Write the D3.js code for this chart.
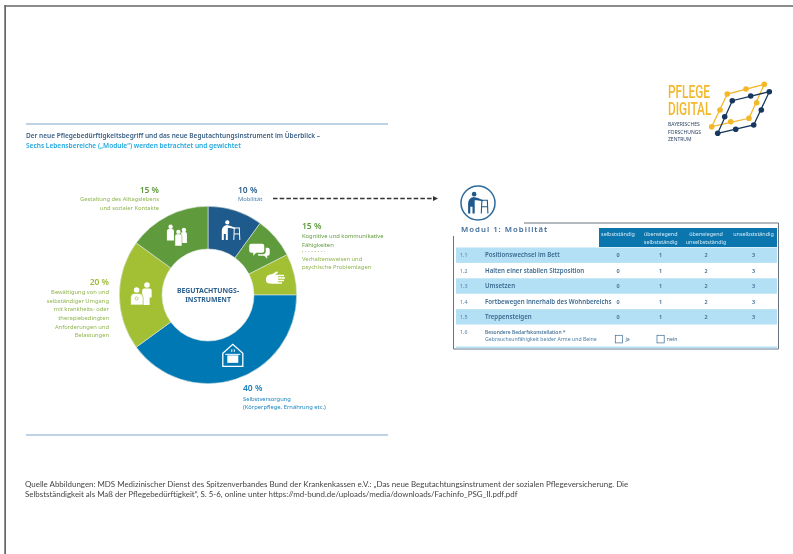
<!DOCTYPE html>
<html><head><meta charset="utf-8">
<script src="https://cdnjs.cloudflare.com/ajax/libs/d3/7.8.5/d3.min.js"></script>
<style>
html,body{margin:0;padding:0;background:#fff;overflow:hidden}
svg{display:block;font-family:"Noto Sans",sans-serif;filter:blur(.3px)}
</style></head><body><svg id="c" width="793" height="554"></svg>
<script>
const moduleNames = ["Mobilität","Kognitive / Kommunikation","Verhaltensweisen","Selbstversorgung","Umgang mit Anforderungen","Alltagsleben"];
const moduleShares = [10, 7.5, 7.5, 40, 20, 15];
const moduleColors = ["#1f5a8c","#5f9b3c","#a3c035","#0078b4","#a3c035","#5f9b3c"];
const columnHeaders = [["selbstständig"],["überwiegend","selbstständig"],["überwiegend","unselbstständig"],["unselbstständig"]];
const itemNumbers = ["1.1","1.2","1.3","1.4","1.5"];
const itemNames = ["Positionswechsel im Bett","Halten einer stabilen Sitzposition","Umsetzen","Fortbewegen innerhalb des Wohnbereichs","Treppensteigen"];
const itemScores = [0,1,2,3];

const svg = d3.select("#c");
const BLUE="#2c5f8d", CYAN="#1fa8e0", DGREEN="#5f9b3c", LINE="#a9c4de", LG="#8fb54d";
function txt(x,y,s,o={}){
  return svg.append("text").attr("x",x).attr("y",y).text(s)
    .attr("font-size",o.size||5.8).attr("fill",o.fill||BLUE)
    .attr("font-weight",o.weight||400).attr("text-anchor",o.anchor||"start")
    .attr("letter-spacing",o.ls||0).style("font-family",o.font||null);
}
// page frame
svg.append("rect").attr("x",4.5).attr("y",5).attr("width",789).attr("height",2).attr("fill","#8c8c8c");
svg.append("rect").attr("x",4.3).attr("y",5).attr("width",1.7).attr("height",549).attr("fill","#666");

// rules
[124,435].forEach(y=>svg.append("line").attr("x1",26).attr("x2",388).attr("y1",y).attr("y2",y).attr("stroke",LINE).attr("stroke-width",1.3));
txt(26,138,"Der neue Pflegebedürftigkeitsbegriff und das neue Begutachtungsinstrument im Überblick –",{weight:600,size:6.5,fill:"#3a5f85"});
txt(26,148,"Sechs Lebensbereiche („Module“) werden betrachtet und gewichtet",{weight:600,size:6.55,fill:CYAN});

// donut
const cx=208,cy=295,R0=46,R1=88.7;
const pie=d3.pie().sort(null).value(d=>d);
const arc=d3.arc().innerRadius(R0).outerRadius(R1);
const slices=pie(moduleShares);
const g=svg.append("g").attr("transform",`translate(${cx},${cy})`);
g.selectAll("path").data(slices).join("path").attr("d",arc)
  .attr("fill",(d,i)=>moduleColors[i]).attr("stroke","#dfe8e0").attr("stroke-width",0.6);
txt(cx,293,"BEGUTACHTUNGS-",{anchor:"middle",weight:700,size:6.9});
txt(cx,302,"INSTRUMENT",{anchor:"middle",weight:700,size:6.9});

// white icons placed relative to arc centroids
const cen=slices.map(d=>{const [a,b]=arc.centroid(d);return [cx+a,cy+b];});
function icon(i,dx,dy,draw){const gg=svg.append("g").attr("transform",`translate(${cen[i][0]+dx},${cen[i][1]+dy})`).attr("fill","#fff");draw(gg);return gg;}
function walker(gg,c,w){
  gg.append("circle").attr("cx",-3.5).attr("cy",-8.5).attr("r",2.1).attr("fill",c);
  gg.append("path").attr("d","M-9 9V0Q-9-5-4-6L0-5L4.5-3V-2L-1-3L-3-3V9H-5V3H-7V9Z").attr("fill",c);
  gg.append("path").attr("d","M2.5-3H9M3.5-3L3 9M8.5-3L9 9M3.3 3H8.7").attr("fill","none").attr("stroke",c).attr("stroke-width",w);
}
icon(0,2,0,gg=>walker(gg,"#fff",1));
icon(1,0,-0.5,gg=>{
  gg.append("path").attr("d","M-8-7H3Q5-7 5-5V0Q5 2 3 2H-3L-6 5V2H-8Q-10 2-10 0V-5Q-10-7-8-7Z");
  gg.append("path").attr("d","M6.5-3H8.5Q10.5-3 10.5-1V3Q10.5 5 8.5 5H8V8L5 5H0Q-1.5 5-1.5 3.5H3.5Q6.5 3.5 6.5 0.5Z");
});
icon(2,1.5,-1,gg=>{
  gg.append("path").attr("d","M-9 0Q-8-4-3-4L2-7L3-5.5L0-3.5H9V-2H3V-1H10V0.5H3V1.5H9V3H3V4H7V5.5H-3Q-8 5.5-9 3Z");
});
icon(3,4,-3.7,gg=>{
  gg.append("path").attr("d","M-10-2L0-11L10-2V11H-10Z").attr("fill","none").attr("stroke","#fff").attr("stroke-width",1.3);
  gg.append("path").attr("d","M-5.5 0H5.5V7.5H-5.5Z");
  gg.append("path").attr("d","M-7.5-1H7.5M-1-6V-3.5M1.5-6V-3.5").attr("fill","none").attr("stroke","#fff").attr("stroke-width",1);
});
icon(4,0.5,-1.5,gg=>{
  gg.append("circle").attr("cx",5.8).attr("cy",-8.5).attr("r",2.8);
  gg.append("path").attr("d","M1 11.5V-3Q1-5 3-5H8.5Q10.5-5 10.5-3V4H8.5V11.5Z");
  gg.append("circle").attr("cx",-4.5).attr("cy",-3.5).attr("r",2.8);
  gg.append("path").attr("d","M-10.5 11.5V4Q-10.5 0-7 0H-2Q2 0 2 4V11.5Z").attr("stroke","#a3c035").attr("stroke-width",0.7);
  gg.append("circle").attr("cx",-4.5).attr("cy",5).attr("r",1.5).attr("fill","none").attr("stroke","#a3c035").attr("stroke-width",0.7);
});
icon(5,-0.5,0,gg=>{
  gg.append("circle").attr("cx",-6.3).attr("cy",-8.3).attr("r",2.2);
  gg.append("path").attr("d","M-10 5.6V-4Q-10-6-8-6H-5Q-3-6-3-4V5.6Z");
  gg.append("circle").attr("cx",7).attr("cy",-5).attr("r",2.2);
  gg.append("path").attr("d","M4 8V-1Q4-3 6-3H8Q10-3 10-1V8Z");
  gg.append("circle").attr("cx",1.5).attr("cy",-3).attr("r",2.2);
  gg.append("path").attr("d","M-2 11V1Q-2-1 0-1H3Q5-1 5 1V11Z").attr("stroke","#5f9b3c").attr("stroke-width",0.5);
});

// labels
txt(159,193,"15 %",{anchor:"end",size:8.5,weight:600,fill:DGREEN});
txt(159,201,"Gestaltung des Alltagslebens",{anchor:"end",fill:LG});
txt(159,210,"und sozialer Kontakte",{anchor:"end",fill:LG});
txt(238,193,"10 %",{size:8.5,weight:600});
txt(238,201,"Mobilität",{fill:"#4a7fb0"});
txt(302,229,"15 %",{size:8.5,weight:600,fill:DGREEN});
txt(302,238,"Kognitive und kommunikative",{fill:DGREEN});
txt(302,246.5,"Fähigkeiten",{fill:DGREEN});
svg.append("line").attr("x1",302).attr("x2",325).attr("y1",251.5).attr("y2",251.5).attr("stroke",LG).attr("stroke-width",0.7).attr("stroke-dasharray","1 2.2");
txt(302,260.5,"Verhaltensweisen und",{fill:LG});
txt(302,269,"psychische Problemlagen",{fill:LG});
txt(109,285,"20 %",{anchor:"end",size:8.5,weight:600,fill:"#9dbb3a"});
["Bewältigung von und","selbständiger Umgang","mit krankheits- oder","therapiebedingten","Anforderungen und","Belastungen"].forEach((s,i)=>
  txt(109,294+i*8.65,s,{anchor:"end",fill:LG}));
txt(243,391,"40 %",{size:8.5,weight:600,fill:"#1a82bd"});
txt(243,400.5,"Selbstversorgung",{fill:"#1a82bd"});
txt(243,409,"(Körperpflege, Ernährung etc.)",{fill:"#1a82bd"});

// dashed arrow
svg.append("line").attr("x1",273).attr("x2",433).attr("y1",198.5).attr("y2",198.5).attr("stroke","#333").attr("stroke-width",1.3).attr("stroke-dasharray","4.5 2.2");
svg.append("path").attr("d","M433 196L438 198.5L433 201Z").attr("fill","#333");

// module icon
svg.append("circle").attr("cx",478).attr("cy",203).attr("r",17).attr("fill","#fff").attr("stroke","#2c6a9c").attr("stroke-width",1.5);
walker(svg.append("g").attr("transform","translate(478,203.5) scale(1.1)"),"#1f5a8c",1);

// table
svg.append("path").attr("d","M453.5 236V349H778.5V223H524").attr("fill","none").attr("stroke","#6b7380").attr("stroke-width",1);
txt(461,232,"Modul 1: Mobilität",{size:7.8,weight:600,fill:"#3f6d99",ls:1});
const colX=[618,660.7,706,753.5];
svg.append("rect").attr("x",599).attr("y",228).attr("width",178).attr("height",19).attr("fill","#0b75ad");
columnHeaders.forEach((h,i)=>h.forEach((s,j)=>
  txt(colX[i],236+j*8,s,{anchor:"middle",size:5.4,fill:"#d6ecf7"})));
const rowY=d3.scaleBand().domain(d3.range(5)).range([247.5,324.5]);
itemNames.forEach((n,i)=>{
  const y=rowY(i), h=rowY.bandwidth();
  if(i%2===0) svg.append("rect").attr("x",456).attr("y",y).attr("width",321).attr("height",h).attr("fill","#b3e0f5");
  txt(460,y+9.8,itemNumbers[i],{size:5.3,fill:"#4a7fa8"});
  txt(485,y+9.8,n,{size:6.15,weight:600,fill:"#3c6a90"});
  itemScores.forEach((v,k)=>txt(colX[k],y+9.8,v,{anchor:"middle",size:5.5,weight:600,fill:"#3c6a90"}));
});
txt(460,334,"1.6",{size:5.3,fill:"#4a7fa8"});
txt(485,334,"Besondere Bedarfskonstellation *",{size:5,weight:500,fill:"#3c6a90"});
txt(485,341.3,"Gebrauchsunfähigkeit beider Arme und Beine",{size:5.2,fill:"#4a7fa8"});
svg.append("rect").attr("x",615.3).attr("y",335.3).attr("width",7.2).attr("height",7.6).attr("fill","none").attr("stroke","#3c6a90").attr("stroke-width",0.7);
txt(625.5,341.3,"ja",{size:5.2,fill:"#3c6a90"});
svg.append("rect").attr("x",657).attr("y",335.3).attr("width",7.2).attr("height",7.6).attr("fill","none").attr("stroke","#3c6a90").attr("stroke-width",0.7);
txt(666.7,341.3,"nein",{size:5.2,fill:"#3c6a90"});
svg.append("rect").attr("x",456).attr("y",346.5).attr("width",321).attr("height",1.8).attr("fill","#b3e0f5");

// logo
const lt=svg.append("text").attr("transform","translate(668,98) scale(0.66,1)").attr("fill","#f4b72a").attr("font-size",18).attr("font-weight",500).style("font-family","Roboto");
lt.append("tspan").attr("x",0).attr("y",0).text("PFLEGE");
lt.append("tspan").attr("x",0).attr("y",17).text("DIGITAL");
["BAYERISCHES","FORSCHUNGS","ZENTRUM"].forEach((s,i)=>txt(668,126.3+i*7.4,s,{size:5,fill:"#2d4465"}));
const poly=(pts,c)=>svg.append("path").attr("d",d3.line()(pts)+"Z").attr("fill","none").attr("stroke",c).attr("stroke-width",1.3);
poly([[711.7,126.7],[749,118.3],[764.3,84.3],[727.3,94]],"#f4b72a");
poly([[717.7,133.3],[753.7,125],[769.3,91.7],[732.3,100.7]],"#17375e");
const dots=(pts,c)=>svg.selectAll(null).data(pts).join("circle").attr("cx",d=>d[0]).attr("cy",d=>d[1]).attr("r",2.8).attr("fill",c);
dots([[711.7,126.7],[730.7,121.7],[749,118.3],[756.7,102.7],[764.3,84.3],[746,89],[727.3,94],[720,110]],"#f4b72a");
dots([[717.7,133.3],[735.7,129.3],[753.7,125],[761.3,110],[769.3,91.7],[750.7,96],[732.3,100.7],[724.7,116.7]],"#17375e");

// source
const SRC={size:7.93,fill:"#444",font:"Lato"};
txt(25,487,"Quelle Abbildungen: MDS Medizinischer Dienst des Spitzenverbandes Bund der Krankenkassen e.V.: „Das neue Begutachtungsinstrument der sozialen Pflegeversicherung. Die",SRC);
txt(25,496.5,"Selbstständigkeit als Maß der Pflegebedürftigkeit“, S. 5-6, online unter https://md-bund.de/uploads/media/downloads/Fachinfo_PSG_II.pdf.pdf",SRC);
</script></body></html>
